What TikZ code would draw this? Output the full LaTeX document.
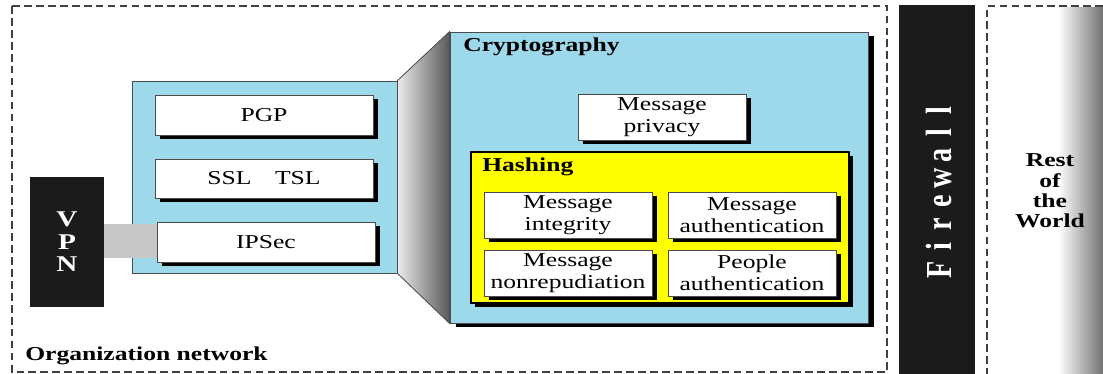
\documentclass[tikz,border=0pt]{standalone}
\usepackage{fontspec}
\setmainfont{Liberation Serif}[FakeStretch=1.3]
\newfontfamily\wallfont{Liberation Serif}
\usetikzlibrary{fit,shadows}

\definecolor{netblue}{HTML}{9DD9EA}
\definecolor{hashyellow}{HTML}{FFFF00}
\definecolor{wallblack}{HTML}{1B1B1B}
\newcommand{\wallchar}[1]{\makebox[16.2pt]{#1}}

\tikzset{
  netline/.style={line width=0.8pt, dash pattern=on 5.5pt off 3pt, draw=black!75},
  panel/.style={draw=black!70, line width=0.6pt, fill=netblue, inner sep=0pt},
  svc/.style={draw=black!70, line width=0.6pt, fill=white, inner sep=0pt,
    drop shadow={shadow xshift=3.5pt, shadow yshift=-3pt, opacity=1, fill=black}},
  svctext/.style={align=center, inner sep=0pt, font=\fontsize{14}{15.4}\selectfont},
  title/.style={font=\fontsize{14}{15}\selectfont\bfseries, anchor=base west, inner sep=0pt},
}

\begin{document}
\begin{tikzpicture}[x=0.025cm, y=-0.025cm]
\useasboundingbox (0,0) rectangle (1103,374);

% organization network
\draw[netline] (12,6) rectangle (887,372);
\node[title] (org) at (25,360) {Organization network};

\node[fill=wallblack, inner sep=0pt, fit={(30,177) (104,307)}] (vpn) {};
\node[text=white, align=center, inner sep=0pt, font=\fontsize{16}{16}\selectfont\bfseries] (vpntext) at (vpn.center) {V\\P\\N};

\node[panel, fit={(132,81) (397,273)}] (proto) {};
\node[svc, fit={(155,95) (373,135)}] (pgp) {};
\node[svctext] (pgptext) at (pgp.center) {PGP};
\node[svc, fit={(155,159) (373,198)}] (ssl) {};
\node[svctext] (ssltext) at (ssl.center) {SSL\hspace{1.2em}TSL};
\node[svc, fit={(157,222) (375,262)}] (ipsec) {};
\node[svctext] (ipsectext) at (ipsec.center) {IPSec};
\fill[black!22] ([yshift=-2pt]vpn.east |- ipsec.north) rectangle ([yshift=3pt]ipsec.south west);

% cryptography
\node[panel, fit={(450,32) (868,323)},
  drop shadow={shadow xshift=4pt, shadow yshift=-3pt, opacity=1, fill=black}] (crypto) {};
\shade[left color=black!8, right color=black!65, draw=black!70, line width=0.6pt]
  (proto.north east) -- (crypto.north west) -- (crypto.south west) -- (proto.south east) -- cycle;
\node[title] (cryptolbl) at (463,52) {Cryptography};
\node[svc, fit={(578,94) (746,140)}] (privacy) {};
\node[svctext] (privacytext) at (privacy.center) {Message\\privacy};

\node[draw=black, line width=0.8pt, fill=hashyellow, inner sep=0pt, fit={(471,152) (849,303)},
  drop shadow={shadow xshift=3pt, shadow yshift=-3pt, opacity=1, fill=black}] (hashing) {};
\node[title] (hashlbl) at (482,171) {Hashing};
\node[svc, fit={(484,192) (652,238)}] (integrity) {};
\node[svctext] (integritytext) at (integrity.center) {Message\\integrity};
\node[svc, fit={(668,192) (836,238)}] (msgauth) {};
\node[svctext] (msgauthtext) at (msgauth.center) {Message\\authentication};
\node[svc, fit={(484,250) (652,296)}] (nonrep) {};
\node[svctext] (nonreptext) at (nonrep.center) {Message\\nonrepudiation};
\node[svc, fit={(668,250) (836,296)}] (peopleauth) {};
\node[svctext] (peopleauthtext) at (peopleauth.center) {People\\authentication};

% firewall
\node[fill=wallblack, inner sep=0pt, fit={(899,5) (975,374)}] (firewall) {};
\node[rotate=90, text=white, inner sep=0pt, font=\wallfont\bfseries\fontsize{20}{20}\selectfont] (walltext) at (939,190)
  {\scalebox{1}[1.3]{\wallchar{F}\wallchar{i}\wallchar{r}\wallchar{e}\wallchar{w}\wallchar{a}\wallchar{l}\wallchar{l}}};

% rest of the world
\shade[left color=white, right color=black!55] (1058,8) rectangle (1103,374);
\draw[netline] (1103,6) -- (987,6) -- (987,374);
\node[align=center, inner sep=0pt, font=\fontsize{14}{14.4}\selectfont\bfseries] (world) at (1050,191) {Rest\\of\\the\\World};
\end{tikzpicture}
\end{document}
